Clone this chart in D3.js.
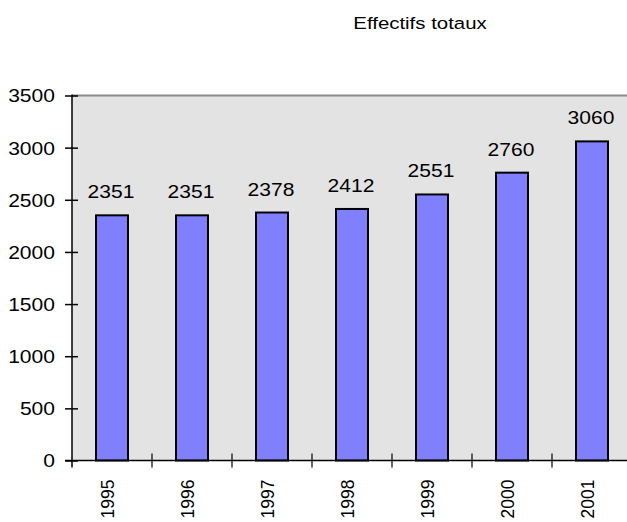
<!DOCTYPE html>
<html>
<head>
<meta charset="utf-8">
<script src="https://cdn.jsdelivr.net/npm/d3@7"></script>
<style>
  html, body { margin: 0; padding: 0; background: #fff; }
  svg { display: block; }
  text { font-family: "Liberation Sans", Arial, sans-serif; fill: #000; }
</style>
</head>
<body>
<svg id="chart" width="627" height="522"></svg>
<script>
// Effectifs totaux par année
const years = ["1995", "1996", "1997", "1998", "1999", "2000", "2001"];
const effectifs = [2351, 2351, 2378, 2412, 2551, 2760, 3060];
const yTicks = [0, 500, 1000, 1500, 2000, 2500, 3000, 3500];
const title = "Effectifs totaux";

const svg = d3.select("#chart");
const plot = { left: 72, right: 632, top: 95.5, bottom: 460.5 };
const stretch = 1.17; // wide horizontal glyphs

const x = d3.scaleBand().domain(years).range([plot.left, plot.right]).paddingInner(0).paddingOuter(0);
const y = d3.scaleLinear().domain([0, 3500]).range([plot.bottom, plot.top]);

// plot background
svg.append("rect")
  .attr("x", plot.left).attr("y", plot.top)
  .attr("width", plot.right - plot.left).attr("height", plot.bottom - plot.top)
  .attr("fill", "#e3e3e3");
svg.append("line")
  .attr("x1", plot.left).attr("x2", plot.right)
  .attr("y1", plot.top).attr("y2", plot.top)
  .attr("stroke", "#8a8a8a").attr("stroke-width", 2);

// bars
const barW = x.bandwidth() * 0.4;
svg.append("g").selectAll("rect")
  .data(years.map((yr, i) => ({ yr, v: effectifs[i] })))
  .join("rect")
  .attr("x", d => x(d.yr) + (x.bandwidth() - barW) / 2)
  .attr("y", d => y(d.v))
  .attr("width", barW)
  .attr("height", d => y(0) - y(d.v))
  .attr("fill", "#8080ff")
  .attr("stroke", "#000").attr("stroke-width", 2);

// value labels
svg.append("g").selectAll("text")
  .data(years.map((yr, i) => ({ yr, v: effectifs[i] })))
  .join("text")
  .attr("transform", d => `translate(${x(d.yr) + x.bandwidth() / 2 - 1},${y(d.v) - 17}) scale(${stretch},1)`)
  .attr("text-anchor", "middle")
  .style("font-size", "18px")
  .text(d => d.v);

// y axis
const yAxis = d3.axisLeft(y).tickValues(yTicks).tickSize(0).tickPadding(0).tickFormat(d3.format("d"));
const gy = svg.append("g").attr("transform", `translate(${plot.left},0)`).call(yAxis);
gy.select(".domain").remove();
gy.selectAll(".tick text").remove();
gy.selectAll(".tick").append("line")
  .attr("x1", -7).attr("x2", 6).attr("stroke", "#000").attr("stroke-width", 1.5);
gy.selectAll(".tick").append("text")
  .attr("transform", `translate(-17,0) scale(${stretch},1)`)
  .attr("text-anchor", "end")
  .attr("dy", "0.36em")
  .style("font-size", "18px")
  .style("font-family", "Liberation Sans, Arial, sans-serif")
  .attr("fill", "#000")
  .text(d => d);
svg.append("line")
  .attr("x1", plot.left).attr("x2", plot.left)
  .attr("y1", plot.top - 1).attr("y2", plot.bottom + 7)
  .attr("stroke", "#000").attr("stroke-width", 1.5);

// x axis
svg.append("line")
  .attr("x1", plot.left - 7).attr("x2", plot.right)
  .attr("y1", plot.bottom).attr("y2", plot.bottom)
  .attr("stroke", "#000").attr("stroke-width", 1.5);
const bounds = years.map(yr => x(yr)).concat([x(years[years.length - 1]) + x.bandwidth()]);
svg.append("g").selectAll("line")
  .data(bounds.slice(1))
  .join("line")
  .attr("x1", d => d).attr("x2", d => d)
  .attr("y1", plot.bottom - 7).attr("y2", plot.bottom + 7)
  .attr("stroke", "#000").attr("stroke-width", 1.2);

const xAxis = d3.axisBottom(x).tickSize(0).tickPadding(0);
const gx = svg.append("g").attr("transform", `translate(0,${plot.bottom})`).call(xAxis);
gx.select(".domain").remove();
gx.selectAll(".tick text")
  .style("font-size", "17.5px")
  .style("font-family", "Liberation Sans, Arial, sans-serif")
  .attr("fill", "#000")
  .attr("text-anchor", "end")
  .attr("dominant-baseline", "central")
  .attr("dy", null)
  .attr("y", 0)
  .attr("transform", "translate(-4,19) rotate(-90)");

// title
svg.append("text")
  .attr("transform", `translate(420,28.5) scale(1.2,1)`)
  .attr("text-anchor", "middle")
  .style("font-size", "17px")
  .text(title);
</script>
</body>
</html>
